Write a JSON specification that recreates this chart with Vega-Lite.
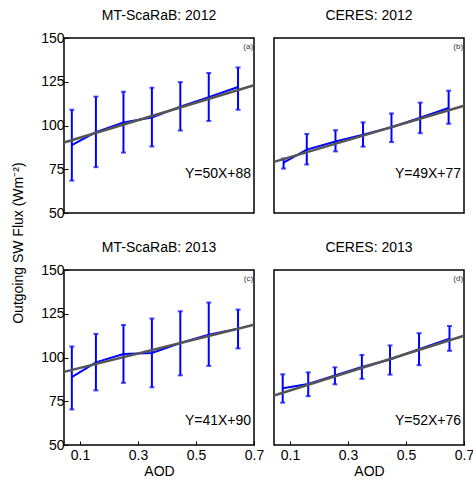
{
  "$schema": "https://vega.github.io/schema/vega-lite/v6.json",
  "padding": {"left": 11, "top": 8, "right": 4, "bottom": 4},
  "background": "white",
  "title": {"text": "Outgoing SW Flux (Wm⁻²)", "orient": "left", "anchor": "middle", "font": "Liberation Sans", "fontSize": 14, "fontWeight": "normal", "color": "black", "offset": 15},
  "data": {
    "values": [
      {"panel": "MT-ScaRaB: 2012", "aod": 0.072, "mean": 88.8, "lo": 68.5, "hi": 109.0},
      {"panel": "MT-ScaRaB: 2012", "aod": 0.155, "mean": 96.2, "lo": 76.2, "hi": 116.5},
      {"panel": "MT-ScaRaB: 2012", "aod": 0.25, "mean": 101.8, "lo": 84.5, "hi": 119.3},
      {"panel": "MT-ScaRaB: 2012", "aod": 0.348, "mean": 104.6, "lo": 88.0, "hi": 121.6},
      {"panel": "MT-ScaRaB: 2012", "aod": 0.446, "mean": 110.8, "lo": 97.1, "hi": 124.8},
      {"panel": "MT-ScaRaB: 2012", "aod": 0.544, "mean": 116.2, "lo": 102.6, "hi": 130.0},
      {"panel": "MT-ScaRaB: 2012", "aod": 0.645, "mean": 122.0, "lo": 109.0, "hi": 133.2},
      {"panel": "CERES: 2012", "aod": 0.078, "mean": 78.8, "lo": 75.4, "hi": 81.1},
      {"panel": "CERES: 2012", "aod": 0.158, "mean": 86.2, "lo": 77.7, "hi": 95.2},
      {"panel": "CERES: 2012", "aod": 0.257, "mean": 90.9, "lo": 85.2, "hi": 97.3},
      {"panel": "CERES: 2012", "aod": 0.352, "mean": 94.8, "lo": 87.9, "hi": 101.8},
      {"panel": "CERES: 2012", "aod": 0.45, "mean": 99.0, "lo": 90.5, "hi": 106.9},
      {"panel": "CERES: 2012", "aod": 0.549, "mean": 104.4, "lo": 95.6, "hi": 113.1},
      {"panel": "CERES: 2012", "aod": 0.647, "mean": 110.0, "lo": 101.0, "hi": 119.9},
      {"panel": "MT-ScaRaB: 2013", "aod": 0.072, "mean": 88.8, "lo": 70.3, "hi": 106.3},
      {"panel": "MT-ScaRaB: 2013", "aod": 0.155, "mean": 97.2, "lo": 81.2, "hi": 113.5},
      {"panel": "MT-ScaRaB: 2013", "aod": 0.25, "mean": 102.0, "lo": 85.5, "hi": 118.6},
      {"panel": "MT-ScaRaB: 2013", "aod": 0.348, "mean": 102.6, "lo": 83.0, "hi": 122.3},
      {"panel": "MT-ScaRaB: 2013", "aod": 0.446, "mean": 108.3, "lo": 89.8, "hi": 126.4},
      {"panel": "MT-ScaRaB: 2013", "aod": 0.544, "mean": 113.0, "lo": 95.2, "hi": 131.4},
      {"panel": "MT-ScaRaB: 2013", "aod": 0.645, "mean": 116.5, "lo": 105.2, "hi": 127.4},
      {"panel": "CERES: 2013", "aod": 0.075, "mean": 82.4, "lo": 74.2, "hi": 90.4},
      {"panel": "CERES: 2013", "aod": 0.163, "mean": 84.9, "lo": 77.9, "hi": 91.5},
      {"panel": "CERES: 2013", "aod": 0.255, "mean": 89.8, "lo": 84.7, "hi": 94.4},
      {"panel": "CERES: 2013", "aod": 0.348, "mean": 94.6, "lo": 87.8, "hi": 101.5},
      {"panel": "CERES: 2013", "aod": 0.445, "mean": 98.9, "lo": 90.2, "hi": 106.9},
      {"panel": "CERES: 2013", "aod": 0.545, "mean": 104.8, "lo": 95.6, "hi": 113.9},
      {"panel": "CERES: 2013", "aod": 0.65, "mean": 110.8, "lo": 103.8, "hi": 118.0},
      {"panel": "MT-ScaRaB: 2012", "aod": 0.045, "fit": 90.3},
      {"panel": "MT-ScaRaB: 2012", "aod": 0.7, "fit": 123.0},
      {"panel": "CERES: 2012", "aod": 0.045, "fit": 79.2},
      {"panel": "CERES: 2012", "aod": 0.7, "fit": 111.3},
      {"panel": "MT-ScaRaB: 2013", "aod": 0.045, "fit": 91.8},
      {"panel": "MT-ScaRaB: 2013", "aod": 0.7, "fit": 118.7},
      {"panel": "CERES: 2013", "aod": 0.045, "fit": 78.3},
      {"panel": "CERES: 2013", "aod": 0.7, "fit": 112.4},
      {"panel": "MT-ScaRaB: 2012", "eq": "Y=50X+88", "tag": "(a)"},
      {"panel": "CERES: 2012", "eq": "Y=49X+77", "tag": "(b)"},
      {"panel": "MT-ScaRaB: 2013", "eq": "Y=41X+90", "tag": "(c)"},
      {"panel": "CERES: 2013", "eq": "Y=52X+76", "tag": "(d)"}
    ]
  },
  "facet": {
    "field": "panel",
    "type": "nominal",
    "sort": ["MT-ScaRaB: 2012", "CERES: 2012", "MT-ScaRaB: 2013", "CERES: 2013"],
    "header": {"title": null, "labelFont": "Liberation Sans", "labelFontSize": 14, "labelColor": "black", "labelPadding": 15}
  },
  "columns": 2,
  "bounds": "flush",
  "spacing": {"column": 20, "row": 57},
  "spec": {
    "width": 190,
    "height": 175,
    "layer": [
      {
        "transform": [{"filter": "isValid(datum.mean)"}],
        "mark": {"type": "errorbar", "rule": {"color": "#0000ff", "strokeWidth": 2}, "ticks": {"color": "#0000ff", "size": 5, "thickness": 2}},
        "encoding": {
          "x": {"field": "aod", "type": "quantitative", "title": "AOD", "scale": {"domain": [0.045, 0.7], "nice": false, "zero": false}, "axis": {"values": [0.1, 0.3, 0.5, 0.7], "format": ".1f"}},
          "y": {"field": "lo", "type": "quantitative", "title": null, "scale": {"domain": [50, 150], "nice": false, "zero": false}, "axis": {"values": [50, 75, 100, 125, 150]}},
          "y2": {"field": "hi"}
        }
      },
      {
        "transform": [{"filter": "isValid(datum.mean)"}],
        "mark": {"type": "line", "color": "#0000ff", "strokeWidth": 2},
        "encoding": {
          "x": {"field": "aod", "type": "quantitative", "title": "AOD"},
          "y": {"field": "mean", "type": "quantitative", "title": null}
        }
      },
      {
        "transform": [{"filter": "isValid(datum.fit)"}],
        "mark": {"type": "line", "color": "#555555", "strokeWidth": 2.5},
        "encoding": {
          "x": {"field": "aod", "type": "quantitative", "title": "AOD"},
          "y": {"field": "fit", "type": "quantitative", "title": null}
        }
      },
      {
        "transform": [{"filter": "isValid(datum.eq) && indexof(datum.panel, '2012') >= 0"}],
        "mark": {"type": "text", "align": "right", "baseline": "middle", "font": "Liberation Sans", "fontSize": 14, "color": "black"},
        "encoding": {
          "x": {"datum": 0.69},
          "y": {"datum": 72.5},
          "text": {"field": "eq"}
        }
      },
      {
        "transform": [{"filter": "isValid(datum.eq) && indexof(datum.panel, '2013') >= 0"}],
        "mark": {"type": "text", "align": "right", "baseline": "middle", "font": "Liberation Sans", "fontSize": 14, "color": "black"},
        "encoding": {
          "x": {"datum": 0.69},
          "y": {"datum": 64},
          "text": {"field": "eq"}
        }
      },
      {
        "transform": [{"filter": "isValid(datum.tag)"}],
        "mark": {"type": "text", "align": "right", "baseline": "middle", "font": "Liberation Sans", "fontSize": 8, "color": "#333333"},
        "encoding": {
          "x": {"datum": 0.697},
          "y": {"datum": 145},
          "text": {"field": "tag"}
        }
      }
    ]
  },
  "config": {
    "view": {"stroke": "black", "strokeWidth": 1.5},
    "axis": {
      "grid": false,
      "domain": false,
      "labelFont": "Liberation Sans",
      "labelFontSize": 14,
      "labelColor": "black",
      "titleFont": "Liberation Sans",
      "titleFontSize": 14,
      "titleFontWeight": "normal",
      "titleColor": "black",
      "tickColor": "black",
      "tickSize": -4,
      "labelPadding": 4,
      "labelFlush": false
    },
    "axisX": {"titlePadding": 2, "labelPadding": 7}
  }
}
